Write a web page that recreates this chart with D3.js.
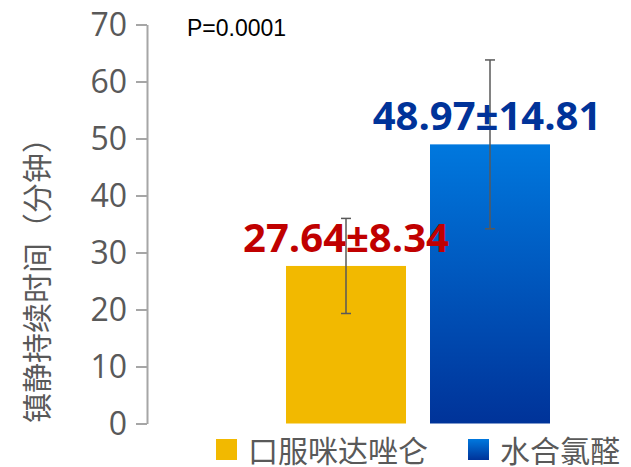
<!DOCTYPE html>
<html>
<head>
<meta charset="utf-8">
<script src="https://cdn.jsdelivr.net/npm/d3@7"></script>
<style>
  body { margin: 0; background: #fff; }
  text { font-family: "Noto Sans CJK SC", "Noto Sans", sans-serif; }
</style>
</head>
<body>
<script>
var groups = ["口服咪达唑仑", "水合氯醛"];
var means = [27.64, 48.97];
var sds = [8.34, 14.81];
var labels = ["27.64±8.34", "48.97±14.81"];
var yTicks = [0, 10, 20, 30, 40, 50, 60, 70];

var width = 631, height = 467;
var svg = d3.select("body").append("svg")
    .attr("width", width)
    .attr("height", height);

var defs = svg.append("defs");
var grad = defs.append("linearGradient")
    .attr("id", "blueGrad")
    .attr("x1", 0).attr("y1", 0).attr("x2", 0).attr("y2", 1);
grad.append("stop").attr("offset", "0%").attr("stop-color", "#0078de");
grad.append("stop").attr("offset", "100%").attr("stop-color", "#003399");

var fills = ["#f2b900", "url(#blueGrad)"];
var labelColors = ["#c00000", "#003399"];

var y = d3.scaleLinear().domain([0, 70]).range([423.5, 24.5]);
var x = d3.scaleBand().domain(groups).range([286, 550]).paddingInner(1 / 6).paddingOuter(0);

// y axis
var yAxis = svg.append("g")
    .attr("transform", "translate(147,0)")
    .call(d3.axisLeft(y).tickValues(yTicks).tickSize(11).tickSizeOuter(0).tickPadding(9));
yAxis.select(".domain").attr("stroke", "#a6a6a6").attr("stroke-width", 2);
yAxis.selectAll(".tick line").attr("stroke", "#a6a6a6").attr("stroke-width", 2);
yAxis.selectAll(".tick text")
    .attr("fill", "#595959")
    .style("font-family", "'Segoe UI', 'Open Sans', sans-serif")
    .attr("font-size", 32)
    .attr("dy", "0.35em");

// y title
svg.append("text")
    .attr("transform", "translate(35,273) rotate(-90)")
    .attr("text-anchor", "middle")
    .attr("dominant-baseline", "central")
    .attr("fill", "#595959")
    .attr("font-size", 30)
    .text("镇静持续时间（分钟）");

// bars
svg.selectAll("rect.bar")
    .data(groups)
    .enter().append("rect")
    .attr("class", "bar")
    .attr("x", function(d) { return x(d); })
    .attr("width", x.bandwidth())
    .attr("y", function(d, i) { return y(means[i]); })
    .attr("height", function(d, i) { return y(0) - y(means[i]); })
    .attr("fill", function(d, i) { return fills[i]; });

// error bars
var eb = svg.selectAll("g.err")
    .data(groups)
    .enter().append("g")
    .attr("class", "err")
    .attr("stroke", "#595959")
    .attr("stroke-width", 1.5);
eb.append("line")
    .attr("x1", function(d) { return x(d) + x.bandwidth() / 2; })
    .attr("x2", function(d) { return x(d) + x.bandwidth() / 2; })
    .attr("y1", function(d, i) { return y(means[i] + sds[i]); })
    .attr("y2", function(d, i) { return y(means[i] - sds[i]); });
[1, -1].forEach(function(s) {
  eb.append("line")
      .attr("x1", function(d) { return x(d) + x.bandwidth() / 2 - 5; })
      .attr("x2", function(d) { return x(d) + x.bandwidth() / 2 + 5; })
      .attr("y1", function(d, i) { return y(means[i] + s * sds[i]); })
      .attr("y2", function(d, i) { return y(means[i] + s * sds[i]); });
});

// value labels
svg.selectAll("text.val")
    .data(groups)
    .enter().append("text")
    .attr("class", "val")
    .attr("x", function(d, i) { return x(d) + x.bandwidth() / 2 + (i === 0 ? 0 : -3); })
    .attr("y", function(d, i) { return y(means[i]) - 14; })
    .attr("text-anchor", "middle")
    .attr("fill", function(d, i) { return labelColors[i]; })
    .attr("font-weight", "bold")
    .attr("font-size", 40)
    .style("font-family", "'Open Sans', 'Noto Sans', sans-serif")
    .text(function(d, i) { return labels[i]; });

// p value
svg.append("text")
    .attr("x", 187)
    .attr("y", 36)
    .attr("fill", "#000")
    .attr("font-size", 23)
    .style("font-family", "'Liberation Sans', Arial, sans-serif")
    .text("P=0.0001");

// legend
var legX = [216, 468];
var leg = svg.selectAll("g.leg")
    .data(groups)
    .enter().append("g")
    .attr("class", "leg")
    .attr("transform", function(d, i) { return "translate(" + legX[i] + ",439)"; });
leg.append("rect")
    .attr("width", 21).attr("height", 21)
    .attr("fill", function(d, i) { return fills[i]; });
leg.append("text")
    .attr("x", 32)
    .attr("y", 10)
    .attr("dominant-baseline", "central")
    .attr("fill", "#595959")
    .attr("font-size", 30)
    .text(function(d) { return d; });
</script>
</body>
</html>
